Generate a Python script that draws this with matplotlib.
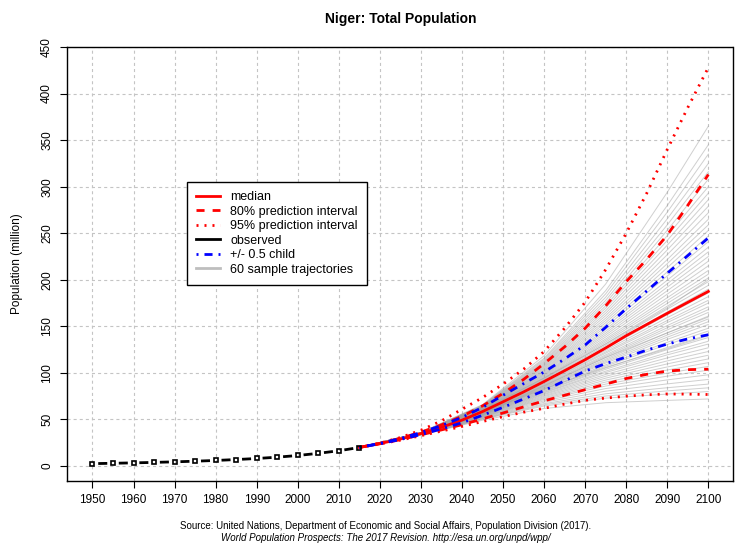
import matplotlib
matplotlib.use("Agg")
import matplotlib.pyplot as plt
from matplotlib.lines import Line2D

plt.rcParams['font.family'] = ['Liberation Sans', 'DejaVu Sans']
plt.rcParams['lines.scale_dashes'] = False

# observed population (million)
obs_years = [1950, 1955, 1960, 1965, 1970, 1975, 1980, 1985, 1990, 1995, 2000, 2005, 2010, 2015]
obs_pop = [2.56, 2.97, 3.39, 3.91, 4.50, 5.19, 5.99, 6.96, 8.09, 9.51, 11.33, 13.62, 16.43, 19.90]

# projections, every 5 years
proj_years = [2015, 2020, 2025, 2030, 2035, 2040, 2045, 2050, 2055, 2060,
              2065, 2070, 2075, 2080, 2085, 2090, 2095, 2100]
median = [20.0, 24.1, 29.0, 34.9, 41.6, 49.3, 58.5, 69.0, 79.6, 90.8,
          102.4, 114.2, 126.8, 140.0, 152.0, 164.0, 175.8, 187.5]
pi80_high = [20.0, 24.3, 29.8, 36.4, 44.2, 53.4, 64.6, 78.0, 93.0, 110.0,
             128.0, 148.0, 172.0, 198.0, 222.0, 248.0, 280.0, 313.0]
pi80_low = [20.0, 23.9, 28.3, 33.5, 38.8, 44.4, 50.6, 57.0, 63.5, 70.0,
            76.0, 82.0, 88.0, 94.0, 98.5, 102.0, 103.5, 104.0]
pi95_high = [20.0, 24.6, 30.6, 38.5, 48.5, 61.0, 73.5, 88.0, 104.0, 123.0,
             148.0, 176.0, 211.0, 250.0, 293.0, 340.0, 385.0, 428.0]
pi95_low = [20.0, 23.7, 27.8, 32.6, 37.5, 42.5, 47.8, 53.0, 57.8, 62.0,
            66.5, 70.5, 73.0, 75.0, 76.5, 77.4, 77.2, 76.8]
child_high = [20.0, 24.2, 29.6, 36.0, 43.5, 52.2, 63.0, 76.0, 88.5, 101.0,
              115.0, 130.0, 149.0, 169.0, 188.0, 207.0, 226.0, 245.0]
child_low = [20.0, 24.0, 28.5, 33.8, 39.8, 46.5, 54.5, 63.0, 72.0, 81.0,
             91.5, 102.0, 110.0, 117.0, 124.5, 131.0, 136.5, 141.0]

# 60 sample trajectories
traj_years = [2015, 2030, 2045, 2060, 2075, 2090, 2100]
trajectories = [
    [20, 33.3, 49.2, 61.8, 68.0, 70.5, 72],
    [20, 33.4, 50.2, 64.5, 72.9, 77.3, 80],
    [20, 33.5, 50.6, 65.8, 75.2, 80.7, 84],
    [20, 33.6, 51.0, 67.0, 77.6, 84.1, 88],
    [20, 33.7, 51.5, 68.5, 80.4, 88.2, 93],
    [20, 33.8, 52.0, 70.0, 83.2, 92.5, 98],
    [20, 33.9, 52.5, 71.4, 85.9, 96.5, 103],
    [20, 33.9, 52.8, 72.5, 88.0, 99.8, 107],
    [20, 34.0, 53.2, 73.5, 90.2, 103.1, 111],
    [20, 34.1, 53.5, 74.6, 92.3, 106.4, 115],
    [20, 34.1, 53.9, 75.6, 94.4, 109.7, 119],
    [20, 34.2, 54.2, 76.7, 96.4, 112.9, 123],
    [20, 34.2, 54.5, 77.6, 98.4, 116.1, 127],
    [20, 34.3, 54.8, 78.6, 100.4, 119.4, 131],
    [20, 34.3, 55.0, 79.3, 101.9, 121.7, 134],
    [20, 34.4, 55.3, 80.2, 103.9, 125.0, 138],
    [20, 34.4, 55.5, 80.9, 105.3, 127.3, 141],
    [20, 34.4, 55.8, 81.8, 107.3, 130.5, 145],
    [20, 34.5, 56.0, 82.5, 108.7, 132.9, 148],
    [20, 34.5, 56.3, 83.4, 110.6, 136.0, 152],
    [20, 34.6, 56.5, 84.1, 112.0, 138.4, 155],
    [20, 34.6, 56.7, 84.7, 113.4, 140.7, 158],
    [20, 34.6, 56.9, 85.3, 114.8, 143.1, 161],
    [20, 34.7, 57.1, 86.2, 116.7, 146.2, 165],
    [20, 34.7, 57.3, 86.8, 118.0, 148.5, 168],
    [20, 34.7, 57.5, 87.4, 119.4, 150.9, 171],
    [20, 34.8, 57.7, 88.2, 121.2, 154.0, 175],
    [20, 34.8, 57.9, 88.8, 122.6, 156.3, 178],
    [20, 34.8, 58.2, 89.6, 124.3, 159.4, 182],
    [20, 34.9, 58.4, 90.4, 126.1, 162.5, 186],
    [20, 34.9, 58.6, 91.2, 127.9, 165.5, 190],
    [20, 35.0, 58.8, 91.9, 129.6, 168.6, 194],
    [20, 35.0, 59.1, 92.7, 131.4, 171.7, 198],
    [20, 35.0, 59.3, 93.4, 133.1, 174.7, 202],
    [20, 35.1, 59.5, 94.2, 134.8, 177.7, 206],
    [20, 35.1, 59.7, 94.9, 136.5, 180.8, 210],
    [20, 35.1, 59.9, 95.8, 138.6, 184.6, 215],
    [20, 35.2, 60.2, 96.7, 140.7, 188.3, 220],
    [20, 35.2, 60.4, 97.6, 142.7, 192.1, 225],
    [20, 35.3, 60.7, 98.4, 144.8, 195.8, 230],
    [20, 35.3, 60.9, 99.3, 146.8, 199.6, 235],
    [20, 35.3, 61.2, 100.3, 149.3, 204.1, 241],
    [20, 35.4, 61.4, 101.3, 151.6, 208.5, 247],
    [20, 35.4, 61.7, 102.2, 154.0, 213.0, 253],
    [20, 35.5, 62.0, 103.2, 156.4, 217.4, 259],
    [20, 35.5, 62.2, 104.2, 158.8, 221.8, 265],
    [20, 35.5, 62.5, 105.3, 161.5, 227.0, 272],
    [20, 35.6, 62.8, 106.3, 164.1, 232.1, 279],
    [20, 35.6, 63.1, 107.4, 166.8, 237.2, 286],
    [20, 35.7, 63.4, 108.4, 169.5, 242.3, 293],
    [20, 35.7, 63.6, 109.5, 172.1, 247.4, 300],
    [20, 35.8, 63.9, 110.6, 175.1, 253.2, 308],
    [20, 35.8, 64.2, 111.8, 178.0, 259.0, 316],
    [20, 35.9, 64.6, 113.0, 181.3, 265.5, 325],
    [20, 35.9, 64.9, 114.4, 184.9, 272.7, 335],
    [20, 36.0, 65.3, 115.8, 188.4, 279.8, 345],
    [20, 36.1, 65.9, 118.4, 195.5, 294.0, 365],
    [20, 35.4, 60.5, 94.5, 131.0, 170.0, 200],
    [20, 34.2, 56.0, 86.0, 116.5, 143.0, 160],
    [20, 35.0, 57.5, 83.0, 106.0, 126.0, 140],
]

x_ticks = list(range(1950, 2101, 10))
y_ticks = list(range(0, 451, 50))

dash80 = (0, (5.8, 5.8))
dot95 = (0, (1.45, 4.3))
dashdot = (0, (1.45, 4.3, 5.8, 4.3))

fig = plt.figure(figsize=(7.38, 5.51), dpi=100)
ax = fig.add_axes([0.0908, 0.1270, 0.9024, 0.7877])

for row in trajectories:
    ax.plot(traj_years, row, color='#a0a0a0', lw=0.7, alpha=0.5, zorder=2)

ax.plot(proj_years, median, color='red', lw=2, zorder=4)
ax.plot(proj_years, pi80_high, color='red', lw=2, linestyle=dash80, dash_capstyle='butt', zorder=4)
ax.plot(proj_years, pi80_low, color='red', lw=2, linestyle=dash80, dash_capstyle='butt', zorder=4)
ax.plot(proj_years, pi95_high, color='red', lw=2, linestyle=dot95, dash_capstyle='butt', zorder=4)
ax.plot(proj_years, pi95_low, color='red', lw=2, linestyle=dot95, dash_capstyle='butt', zorder=4)
ax.plot(proj_years, child_high, color='blue', lw=2, linestyle=dashdot, dash_capstyle='butt', zorder=5)
ax.plot(proj_years, child_low, color='blue', lw=2, linestyle=dashdot, dash_capstyle='butt', zorder=5)
ax.plot(obs_years, obs_pop, color='black', lw=2, linestyle=(10.65, (6.5, 8.3)),
        dash_capstyle='butt', marker='s', ms=3.2, mfc='none', mec='black', mew=1.2, zorder=6)

ax.set_xlim(1943.8, 2106.0)
ax.set_ylim(-16.1, 450)
ax.set_xticks(x_ticks)
ax.set_yticks(y_ticks)
ax.tick_params(direction='out', length=5, width=0.8, labelsize=8.5, colors='black')
ax.tick_params(axis='x', pad=4.5)
ax.tick_params(axis='y', pad=5)
for lbl in ax.get_yticklabels():
    lbl.set_rotation(90)
    lbl.set_va('center')

ax.grid(True, color='#c4c4c4', lw=0.8, linestyle=(0, (2.2, 2.2)))
ax.set_axisbelow(True)
for s in ['left', 'right', 'bottom']:
    ax.spines[s].set_linewidth(1)
ax.spines['top'].set_linestyle((0, (1, 1)))
ax.spines['top'].set_linewidth(1)

handles = [
    Line2D([], [], color='red', lw=2),
    Line2D([], [], color='red', lw=2, linestyle=dash80),
    Line2D([], [], color='red', lw=2, linestyle=dot95),
    Line2D([], [], color='black', lw=2),
    Line2D([], [], color='blue', lw=2, linestyle=dashdot),
    Line2D([], [], color='#bebebe', lw=2),
]
labels = ['median', '80% prediction interval', '95% prediction interval',
          'observed', '+/- 0.5 child', '60 sample trajectories']
leg = ax.legend(handles, labels, loc='upper left', bbox_to_anchor=(0.180, 0.689),
                borderaxespad=0, fontsize=9, handlelength=1.9, handletextpad=0.8,
                labelspacing=0.2, borderpad=0.75, fancybox=False, framealpha=1,
                edgecolor='black')
leg.get_frame().set_linewidth(1)

fig.text(401 / 738, 1 - 19 / 551, 'Niger: Total Population', ha='center', va='center',
         fontsize=10, fontweight='bold')
fig.text(17 / 738, 1 - 264 / 551, 'Population (million)', ha='center', va='center',
         rotation=90, fontsize=8.5)
fig.text(386 / 738, 1 - 526 / 551,
         'Source: United Nations, Department of Economic and Social Affairs, Population Division (2017).',
         ha='center', va='center', fontsize=7)
fig.text(386 / 738, 1 - 538 / 551,
         'World Population Prospects: The 2017 Revision. http://esa.un.org/unpd/wpp/',
         ha='center', va='center', fontsize=7, style='italic')

fig.savefig('out.png', dpi=100)
